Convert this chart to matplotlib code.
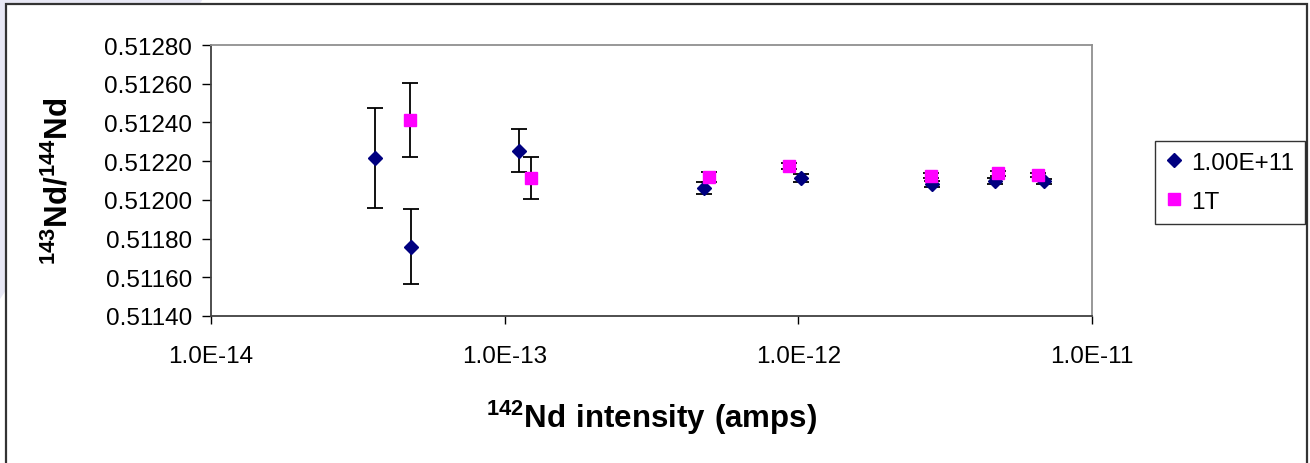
import numpy as np
import matplotlib
matplotlib.use("Agg")
import matplotlib.pyplot as plt
from matplotlib.patches import Rectangle, Polygon
from matplotlib.lines import Line2D

plt.rcParams['font.family'] = ['Liberation Sans', 'DejaVu Sans']
plt.rcParams['mathtext.fontset'] = 'custom'
plt.rcParams['mathtext.rm'] = 'Liberation Sans'
plt.rcParams['mathtext.bf'] = 'Liberation Sans:bold'

# serie 1.00E+11
x_e11 = [3.62e-14, 4.80e-14, 1.12e-13, 4.77e-13, 1.02e-12, 2.86e-12, 4.67e-12, 6.87e-12]
y_e11 = [0.512215, 0.511758, 0.512254, 0.512060, 0.512111, 0.512082, 0.512099, 0.512096]
err_e11 = [0.000258, 0.000195, 0.000110, 0.000032, 0.000020, 0.000016, 0.000015, 0.000012]

# serie 1T
x_1t = [4.76e-14, 1.23e-13, 4.96e-13, 9.31e-13, 2.84e-12, 4.77e-12, 6.53e-12]
y_1t = [0.512414, 0.512114, 0.512117, 0.512176, 0.512125, 0.512137, 0.512128]
err_1t = [0.000192, 0.000108, 0.000026, 0.000015, 0.000012, 0.000012, 0.000010]

xticks = [1e-14, 1e-13, 1e-12, 1e-11]
xticklabels = ["1.0E-14", "1.0E-13", "1.0E-12", "1.0E-11"]
yticks = np.arange(0.51140, 0.512801, 0.0002)

W, H = 1310, 464
fig = plt.figure(figsize=(W/100, H/100), dpi=100)
fig.patch.set_facecolor("white")

# fond de la diapo (coin lavande) + cadre du graphique
fig.patches.append(Polygon([(0, 1), (203/W, 1), (0, 1-300/H)], closed=True,
                           transform=fig.transFigure, facecolor="#E8E8F5",
                           edgecolor="none", zorder=0))
fig.patches.append(Rectangle((6/W, -0.02), (1307-6)/W, 1-5/H+0.02,
                             transform=fig.transFigure, facecolor="white",
                             edgecolor="#333333", linewidth=1.6, zorder=1))

ax = fig.add_axes([211/W, 1-317/H, (1092-211)/W, (317-46)/H])
ax.set_facecolor("none")
ax.set_zorder(2)

ax.errorbar(x_e11, y_e11, yerr=err_e11, fmt="D", color="#000080", ms=7,
            mec="#000080", ecolor="black", elinewidth=1.3, capsize=5.8,
            capthick=1.3)
ax.errorbar(x_1t, y_1t, yerr=err_1t, fmt="s", color="#FF00FF", ms=8.5,
            mec="#FF00FF", ecolor="black", elinewidth=1.3, capsize=5.8,
            capthick=1.3)

ax.set_xscale("log")
ax.set_xlim(1e-14, 1e-11)
ax.set_ylim(0.51140, 0.51280)
ax.set_xticks(xticks)
ax.set_xticklabels(xticklabels)
ax.xaxis.set_minor_locator(matplotlib.ticker.NullLocator())
ax.set_yticks(yticks)
ax.set_yticklabels(["%.5f" % v for v in yticks])
ax.tick_params(axis="y", direction="out", length=6.5, width=1, labelsize=17.5, pad=7)
ax.tick_params(axis="x", direction="out", length=6, width=1, labelsize=17.5, pad=15)

for s in ["left", "bottom"]:
    ax.spines[s].set_color("#404040")
    ax.spines[s].set_linewidth(1.3)
for s in ["top", "right"]:
    ax.spines[s].set_color("#909090")
    ax.spines[s].set_linewidth(1.3)

ax.set_xlabel(r"$\mathbf{^{142}Nd\ intensity\ (amps)}$", fontsize=22.5)
ax.xaxis.set_label_coords(0.5, (317-399)/271)
ax.set_ylabel(r"$\mathbf{^{143}Nd/^{144}Nd}$", fontsize=22.5)
ax.yaxis.set_label_coords((74-211)/881, 0.5)

# legende sans les barres d'erreur
handles = [Line2D([], [], ls="none", marker="D", ms=7, color="#000080"),
           Line2D([], [], ls="none", marker="s", ms=8.5, color="#FF00FF")]
leg = ax.legend(handles, ["1.00E+11", "1T"], loc="upper left",
                bbox_to_anchor=(1155/W, 1-141.7/H),
                bbox_transform=fig.transFigure, borderaxespad=0, fontsize=17.5,
                frameon=True, fancybox=False, edgecolor="black",
                handlelength=0.7, handletextpad=0.35, labelspacing=0.7,
                borderpad=0.45, numpoints=1)
leg.get_frame().set_linewidth(1.0)

fig.savefig("out.png", dpi=100, facecolor="white")
